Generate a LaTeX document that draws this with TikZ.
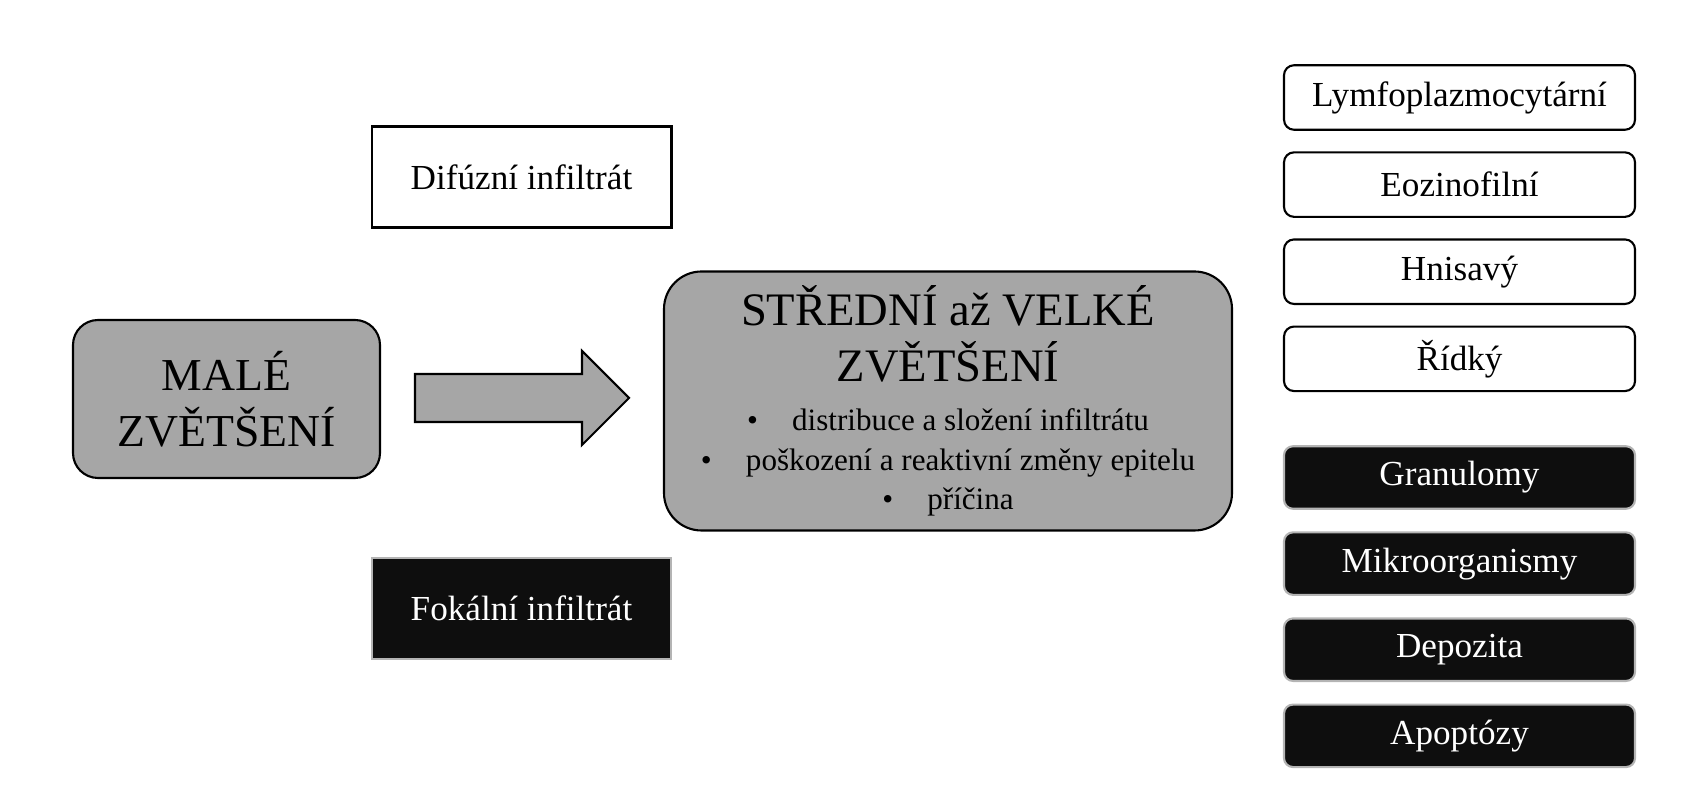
\documentclass[tikz,border=0pt]{standalone}
\usepackage{fontspec}
\setmainfont{Liberation Serif}
\usetikzlibrary{positioning}
\tikzset{>=stealth}
\definecolor{stageGray}{HTML}{A6A6A6}
\definecolor{darkFill}{HTML}{0E0E0E}
\definecolor{rimGray}{HTML}{B4B4B4}
\tikzset{
	stage/.style={draw=black, line width=1.2pt, fill=stageGray, align=center},
	infbox/.style={minimum width=5.98cm, minimum height=2.02cm, font=\fontsize{20}{24}\selectfont},
	lightbox/.style={draw=black, line width=1.2pt, fill=white, rounded corners=0.2cm, minimum width=7.02cm, minimum height=1.29cm, font=\fontsize{20}{24}\selectfont},
	darkbox/.style={draw=rimGray, line width=1.2pt, fill=darkFill, text=white, rounded corners=0.18cm, minimum width=7.02cm, minimum height=1.25cm, font=\fontsize{20}{24}\selectfont},
	blockarrow/.style={draw=black, line width=1.2pt, fill=stageGray, line join=miter}
}

\begin{document}
\begin{tikzpicture}
				\useasboundingbox (0,0) rectangle (34.04,16);
				\node [stage, rounded corners=0.5cm, minimum width=6.14cm, minimum height=3.16cm, font=\fontsize{26}{32}\selectfont] (male) at (4.53,8.02) {MALÉ\\ZVĚTŠENÍ};
				\node [stage, align=flush center, rounded corners=0.75cm, minimum width=11.36cm, minimum height=5.18cm, text width=11cm] (stredni) at (18.96,7.98) {{\fontsize{26.5}{31.5}\selectfont STŘEDNÍ až VELKÉ\\ZVĚTŠENÍ\par}\vspace{6pt}
					{\fontsize{17.7}{22.4}\selectfont \textbullet\hspace{1.1em}distribuce a složení infiltrátu\\
					\textbullet\hspace{1.1em}poškození a reaktivní změny epitelu\\
					\textbullet\hspace{1.1em}příčina\par}};
				\draw [blockarrow] (8.30,7.56) -- (11.64,7.56) -- (11.64,7.10) -- (12.58,8.04) -- (11.64,8.98) -- (11.64,8.52) -- (8.30,8.52) -- cycle;
				\node [infbox, draw=black, line width=1.7pt, fill=white] (difuzni) at (10.43,12.45) {Difúzní infiltrát};
				\node [infbox, draw=rimGray, line width=1.2pt, fill=darkFill, text=white] (fokalni) at (10.43,3.83) {Fokální infiltrát};
				\node [lightbox] (lymfo) at (29.19,14.05) {Lymfoplazmocytární};
				\node [lightbox, below=0.41cm of lymfo] (eozino) {Eozinofilní};
				\node [lightbox, below=0.41cm of eozino] (hnisavy) {Hnisavý};
				\node [lightbox, below=0.41cm of hnisavy] (ridky) {Řídký};
				\node [darkbox] (granulomy) at (29.19,6.45) {Granulomy};
				\node [darkbox, below=0.43cm of granulomy] (mikro) {Mikroorganismy};
				\node [darkbox, below=0.43cm of mikro] (depozita) {Depozita};
				\node [darkbox, below=0.43cm of depozita] (apoptozy) {Apoptózy};
\end{tikzpicture}
\end{document}
